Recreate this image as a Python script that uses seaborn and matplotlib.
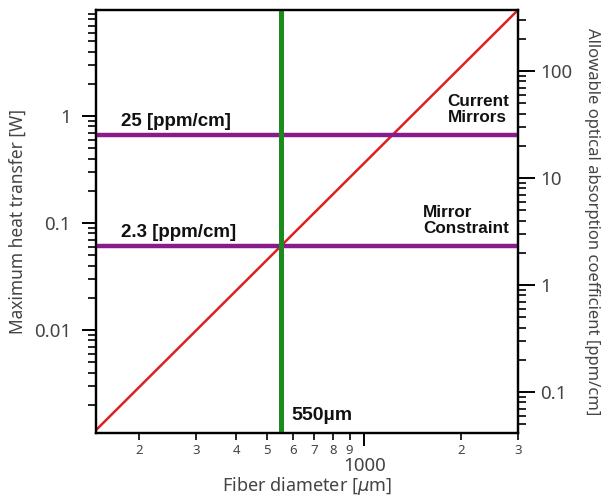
import numpy as np
import pandas as pd
import seaborn as sns
import matplotlib.pyplot as plt
from matplotlib.ticker import LogLocator, FuncFormatter, NullFormatter, FixedLocator

# Heat-transfer limit vs. fiber diameter (straight line on log-log axes)
diameter_um = [147, 3000]
heat_w = [0.00116, 9.8]

# Absorption levels (ppm/cm) and the chosen fiber diameter (um)
absorption_levels = [25, 2.3]
absorption_labels = ["25 [ppm/cm]", "2.3 [ppm/cm]"]
level_names = ["Current\nMirrors", "Mirror\nConstraint"]
chosen_diameter = 550
chosen_label = "550\u00b5m"

# Watts -> ppm/cm conversion between the left and right axes
w_to_ppm = 38.0

x_limits = (147, 3000)
y_limits = (0.00109, 9.8)

sns.set_theme(style="ticks")
plt.rcParams['font.family'] = ['Noto Sans', 'DejaVu Sans']

fig = plt.figure(figsize=(6.10, 4.99), dpi=100)
ax = fig.add_axes([0.1574, 0.1323, 0.6918, 0.8477])

df = pd.DataFrame({"d": diameter_um, "p": heat_w})
sns.lineplot(data=df, x="d", y="p", ax=ax, color="#dd2020", linewidth=1.8)

ax.set_xscale("log")
ax.set_yscale("log")
ax.set_xlim(*x_limits)
ax.set_ylim(*y_limits)

purple = "#871c8a"
for lvl in absorption_levels:
    ax.axhline(lvl / w_to_ppm, color=purple, linewidth=3.2, zorder=3)
ax.axvline(chosen_diameter, color="#1c8a1c", linewidth=3.6, zorder=4)

bold = dict(family=['Liberation Sans', 'DejaVu Sans'], fontweight="bold", color="#111111")
ax.text(176, absorption_levels[0] / w_to_ppm * 1.13, absorption_labels[0], ha="left", va="bottom", fontsize=13.5, **bold)
ax.text(176, absorption_levels[1] / w_to_ppm * 1.13, absorption_labels[1], ha="left", va="bottom", fontsize=13.5, **bold)
ax.text(1815, absorption_levels[0] / w_to_ppm * 1.25, level_names[0], ha="left", va="bottom", linespacing=1.1, fontsize=12.3, **bold)
ax.text(1520, absorption_levels[1] / w_to_ppm * 1.25, level_names[1], ha="left", va="bottom", linespacing=1.1, fontsize=12.3, **bold)
ax.text(chosen_diameter * 1.08, 0.00133, chosen_label, ha="left", va="bottom", fontsize=14, **bold)

# x axis: leading-digit labels on minor ticks, full label on the decade
ax.xaxis.set_major_locator(FixedLocator([1000]))
ax.xaxis.set_major_formatter(FuncFormatter(lambda v, p: f"{int(v)}"))
ax.xaxis.set_minor_locator(FixedLocator([200, 300, 400, 500, 600, 700, 800, 900, 2000, 3000]))
ax.xaxis.set_minor_formatter(FuncFormatter(lambda v, p: f"{int(round(v / 10 ** np.floor(np.log10(v))))}"))
ax.tick_params(axis="x", which="major", length=9, width=1.4, pad=8, labelsize=13.5, colors="#444444")
ax.tick_params(axis="x", which="minor", length=5, width=1.2, pad=3, labelsize=9.5, colors="#444444")

ax.yaxis.set_major_locator(LogLocator(base=10, numticks=10))
ax.yaxis.set_major_formatter(FuncFormatter(lambda v, p: f"{v:g}"))
ax.yaxis.set_minor_locator(LogLocator(base=10, subs=np.arange(2, 10), numticks=20))
ax.yaxis.set_minor_formatter(NullFormatter())
ax.tick_params(axis="y", which="major", length=10, width=1.4, pad=8, labelsize=13.5, colors="#444444")
ax.tick_params(axis="y", which="minor", length=6, width=1.2)

ax.set_xlabel("Fiber diameter [$\\mu$m]", fontsize=13, color="#444444", labelpad=0)
ax.set_ylabel("Maximum heat transfer [W]", fontsize=12.5, color="#444444", labelpad=5)

ax2 = ax.twinx()
ax2.set_yscale("log")
ax2.set_ylim(y_limits[0] * w_to_ppm, y_limits[1] * w_to_ppm)
ax2.yaxis.set_major_locator(LogLocator(base=10, numticks=10))
ax2.yaxis.set_major_formatter(FuncFormatter(lambda v, p: f"{v:g}"))
ax2.yaxis.set_minor_locator(LogLocator(base=10, subs=np.arange(2, 10), numticks=20))
ax2.yaxis.set_minor_formatter(NullFormatter())
ax2.tick_params(axis="y", which="major", length=12, width=1.4, pad=4, labelsize=13.5, colors="#444444")
ax2.tick_params(axis="y", which="minor", length=6, width=1.2)
ax2.set_ylabel("Allowable optical absorption coefficient [ppm/cm]", fontsize=12,
               color="#444444", rotation=-90, labelpad=20)

for a in (ax, ax2):
    for s in a.spines.values():
        s.set_color("black")
        s.set_linewidth(1.6)
        s.set_visible(True)
ax.tick_params(axis="both", which="both", color="black")
ax2.tick_params(axis="y", which="both", color="black")

fig.savefig("out.png", dpi=100)
